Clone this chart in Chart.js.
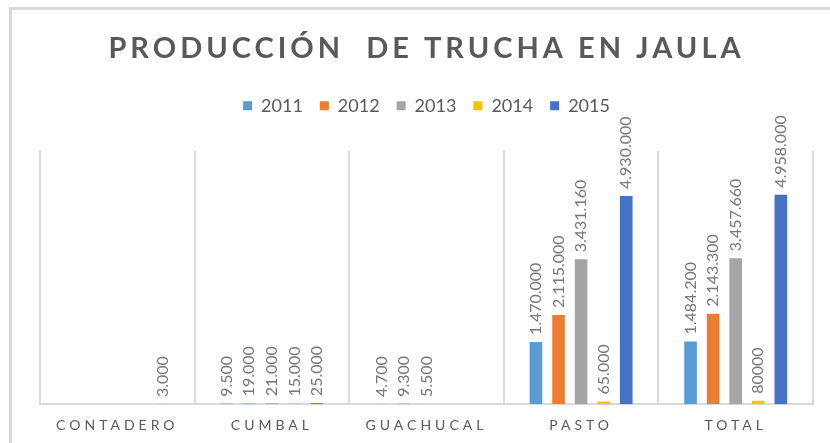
<!DOCTYPE html>
<html>
<head>
<meta charset="utf-8">
<script src="https://cdn.jsdelivr.net/npm/chart.js@4"></script>
<style>
  html, body { margin: 0; padding: 0; background: #fff; overflow: hidden; }
  #marco { position: absolute; left: 9px; top: 7px; width: 900px; height: 500px; border: 3px solid #d9d9d9; }
  #wrap { position: absolute; left: 0; top: 0; width: 830px; height: 443px; }
</style>
</head>
<body>
<div id="marco"></div>
<div id="wrap"><canvas id="myChart"></canvas></div>
<script>
// datos
var municipios = ['CONTADERO', 'CUMBAL', 'GUACHUCAL', 'PASTO', 'TOTAL'];
var anios = ['2011', '2012', '2013', '2014', '2015'];
var prod2011 = [null, 9500, 4700, 1470000, 1484200];
var prod2012 = [null, 19000, 9300, 2115000, 2143300];
var prod2013 = [null, 21000, 5500, 3431160, 3457660];
var prod2014 = [null, 15000, null, 65000, 80000];
var prod2015 = [3000, 25000, null, 4930000, 4958000];
var colores = ['#5B9BD5', '#ED7D31', '#A5A5A5', '#FFC000', '#4472C4'];
// etiquetas escritas sin separador en el original
var sinPunto = { '3-4': true };

function formato(v, ds, i) {
    if (sinPunto[ds + '-' + i]) return String(v);
    return String(v).replace(/\B(?=(\d{3})+(?!\d))/g, '.');
}

var series = [prod2011, prod2012, prod2013, prod2014, prod2015];

// espaciado de letras para titulo y eje x, hueco bajo la leyenda
var ajustes = {
    id: 'ajustes',
    beforeLayout: function(chart) {
        var ctx = chart.ctx;
        if (chart.titleBlock && !chart.titleBlock._ok) {
            var t = chart.titleBlock, dt = t.draw.bind(t);
            t.draw = function(a) { ctx.save(); ctx.letterSpacing = '4px'; dt(a); ctx.restore(); };
            t._ok = true;
        }
        if (chart.legend && !chart.legend._ok) {
            var lg = chart.legend, f = lg.fit.bind(lg);
            lg.fit = function() { f(); this.height += 26; };
            lg._ok = true;
        }
    },
    afterLayout: function(chart) {
        var x = chart.scales.x;
        if (!x._ok) {
            var dl = x.drawLabels.bind(x);
            x.drawLabels = function(a) { chart.ctx.save(); chart.ctx.letterSpacing = '4px'; dl(a); chart.ctx.restore(); };
            x._ok = true;
        }
    },
    afterDatasetsDraw: function(chart) {
        var ctx = chart.ctx;
        ctx.save();
        ctx.font = '16px Lato';
        ctx.fillStyle = '#767676';
        ctx.textAlign = 'left';
        ctx.textBaseline = 'middle';
        chart.data.datasets.forEach(function(ds, d) {
            chart.getDatasetMeta(d).data.forEach(function(bar, i) {
                var v = ds.data[i];
                if (v === null || v === undefined) return;
                ctx.save();
                ctx.translate(bar.x, bar.y - 7);
                ctx.rotate(-Math.PI / 2);
                ctx.fillText(formato(v, d, i), 0, 0);
                ctx.restore();
            });
        });
        ctx.restore();
    }
};

var ctx = document.getElementById('myChart').getContext('2d');
var myChart = new Chart(ctx, {
    type: 'bar',
    data: {
        labels: municipios,
        datasets: anios.map(function(a, k) {
            return {
                label: a,
                data: series[k],
                backgroundColor: colores[k],
                categoryPercentage: 0.73,
                barPercentage: 0.56
            };
        })
    },
    options: {
        responsive: true,
        maintainAspectRatio: false,
        animation: false,
        layout: { padding: { left: 40, right: 17, top: 0, bottom: -4 } },
        plugins: {
            title: {
                display: true,
                text: 'PRODUCCIÓN  DE TRUCHA EN JAULA',
                color: '#595959',
                font: { family: 'Lato', size: 29, weight: 'bold' },
                padding: { top: 31, bottom: 14 }
            },
            legend: {
                labels: {
                    color: '#595959',
                    font: { family: 'Lato', size: 18 },
                    boxWidth: 9,
                    boxHeight: 9,
                    padding: 17
                }
            },
            tooltip: { enabled: false }
        },
        scales: {
            x: {
                grid: { color: '#d9d9d9', lineWidth: 2, drawTicks: false },
                border: { color: '#d9d9d9', width: 2 },
                ticks: { color: '#595959', font: { family: 'Lato', size: 14 }, padding: 13 }
            },
            y: {
                display: false,
                min: 0,
                max: 6000000
            }
        }
    },
    plugins: [ajustes]
});
</script>
</body>
</html>
